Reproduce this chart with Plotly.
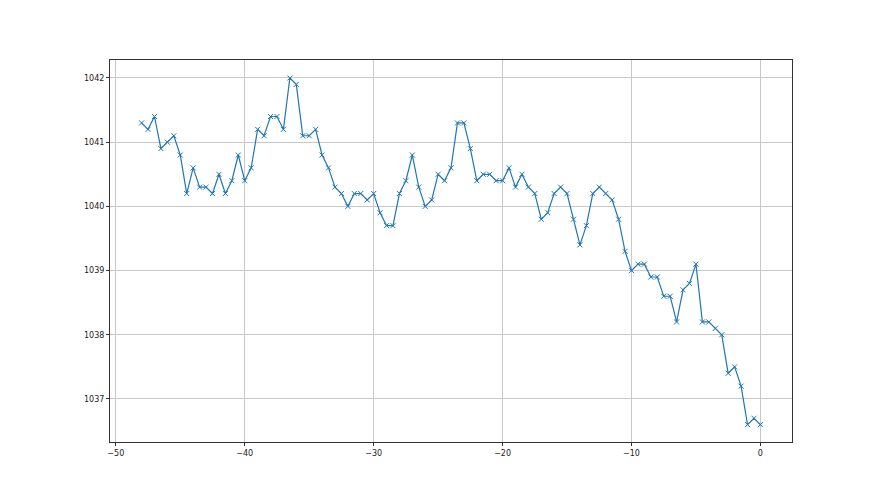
import plotly.graph_objects as go

x_vals = [i * 0.5 - 48 for i in range(97)]
y_vals = [
    1041.3, 1041.2, 1041.4, 1040.9, 1041.0, 1041.1, 1040.8, 1040.2, 1040.6, 1040.3,
    1040.3, 1040.2, 1040.5, 1040.2, 1040.4, 1040.8, 1040.4, 1040.6, 1041.2, 1041.1,
    1041.4, 1041.4, 1041.2, 1042.0, 1041.9, 1041.1, 1041.1, 1041.2, 1040.8, 1040.6,
    1040.3, 1040.2, 1040.0, 1040.2, 1040.2, 1040.1, 1040.2, 1039.9, 1039.7, 1039.7,
    1040.2, 1040.4, 1040.8, 1040.3, 1040.0, 1040.1, 1040.5, 1040.4, 1040.6, 1041.3,
    1041.3, 1040.9, 1040.4, 1040.5, 1040.5, 1040.4, 1040.4, 1040.6, 1040.3, 1040.5,
    1040.3, 1040.2, 1039.8, 1039.9, 1040.2, 1040.3, 1040.2, 1039.8, 1039.4, 1039.7,
    1040.2, 1040.3, 1040.2, 1040.1, 1039.8, 1039.3, 1039.0, 1039.1, 1039.1, 1038.9,
    1038.9, 1038.6, 1038.6, 1038.2, 1038.7, 1038.8, 1039.1, 1038.2, 1038.2, 1038.1,
    1038.0, 1037.4, 1037.5, 1037.2, 1036.6, 1036.7, 1036.6,
]
x_ticks = [-50, -40, -30, -20, -10, 0]
y_ticks = [1037, 1038, 1039, 1040, 1041, 1042]

color = "#1f77b4"

fig = go.Figure()
fig.add_trace(go.Scatter(
    x=x_vals, y=y_vals, mode="lines+markers",
    line=dict(color=color, width=1.2),
    marker=dict(symbol="x-thin", size=5, line=dict(color=color, width=1)),
    showlegend=False,
))

axis_common = dict(
    showline=True, linecolor="#333333", linewidth=1, mirror=True,
    showgrid=True, gridcolor="#c8c8c8", gridwidth=1,
    ticks="outside", ticklen=3, tickcolor="#333333", tickwidth=1,
    zeroline=False,
    tickfont=dict(family="DejaVu Sans", size=8, color="#222222"),
)

fig.update_layout(
    width=880, height=495,
    margin=dict(l=102, r=96, t=52, b=61),
    paper_bgcolor="white", plot_bgcolor="white",
    xaxis=dict(range=[-50.45, 2.45], tickvals=x_ticks, **axis_common),
    yaxis=dict(range=[1036.33, 1042.28], tickvals=y_ticks, **axis_common),
)

fig.write_html("out.html")
